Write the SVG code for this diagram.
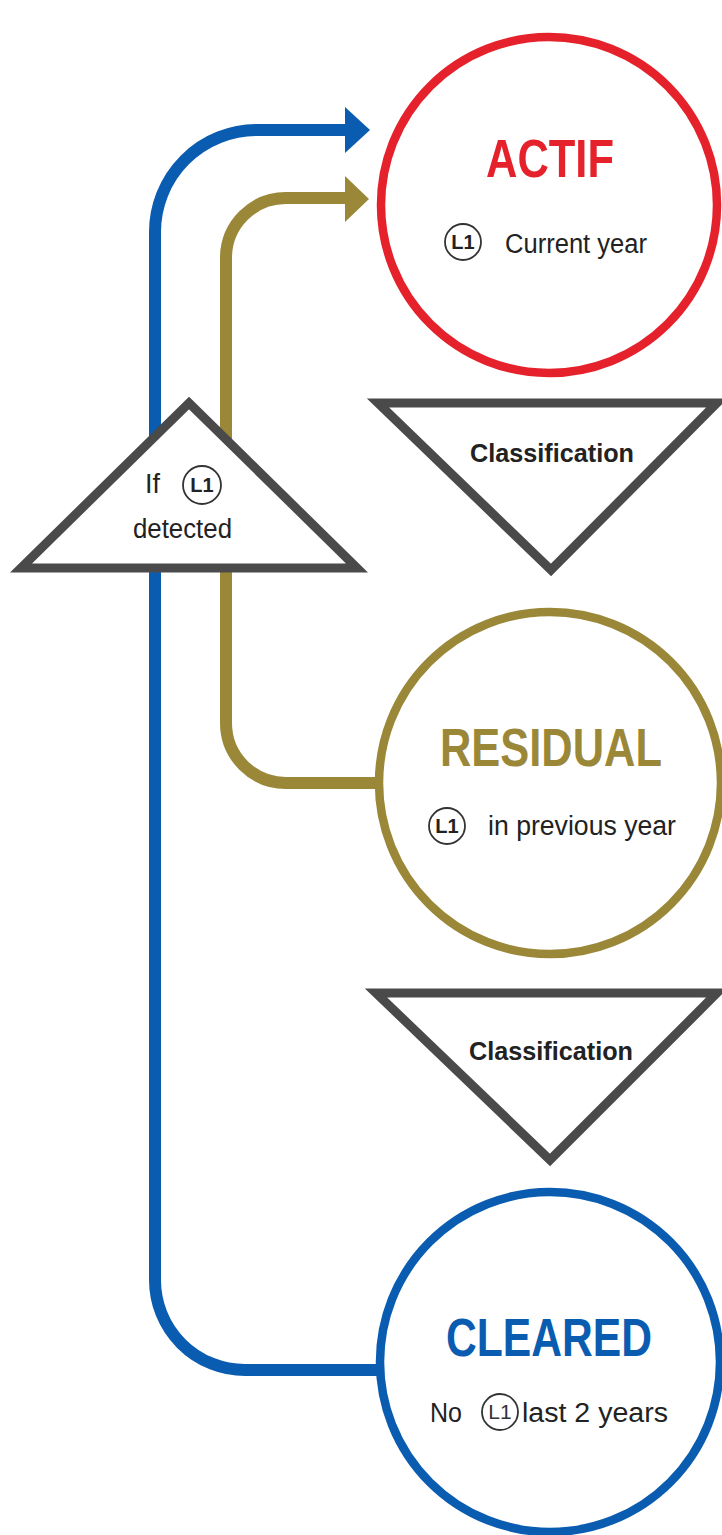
<svg xmlns="http://www.w3.org/2000/svg" width="722" height="1535" viewBox="0 0 722 1535">
<style>
.title{font-family:"Liberation Sans",Arial,sans-serif;font-weight:bold;font-size:53px;text-anchor:middle}
.body{font-family:"Liberation Sans",Arial,sans-serif;font-size:27px;fill:#222}
.cls{font-family:"Liberation Sans",Arial,sans-serif;font-weight:bold;font-size:26px;fill:#222;text-anchor:middle}
.badge{fill:#fff;stroke:#333;stroke-width:1.8}
.bl{font-family:"Liberation Sans",Arial,sans-serif;font-weight:bold;font-size:20px;fill:#222;text-anchor:middle}
.blr{font-family:"Liberation Sans",Arial,sans-serif;font-size:21px;fill:#333;text-anchor:middle}
.tri{fill:#fff;stroke:#4a4a4a;stroke-width:9;stroke-linejoin:miter}
.ring{fill:#fff;stroke-width:8.5}
.conn{fill:none;stroke-width:12}
</style>
<g id="connectors">
  <path class="conn" stroke="#0a5cb0" d="M383 1370 L245 1370 A90 90 0 0 1 155 1280 L155 232 A102 102 0 0 1 257 130 L348 130"/>
  <polygon fill="#0a5cb0" points="345,107 370,130 345,153"/>
  <path class="conn" stroke="#9a8838" stroke-width="11" d="M383 783 L286 783 A60 60 0 0 1 226 723 L226 258 A60 60 0 0 1 286 198 L348 198"/>
  <polygon fill="#9a8838" points="345,176 369,199 345,222"/>
</g>
<g id="actif">
  <circle class="ring" cx="549" cy="205" r="168" stroke="#e5222b"/>
  <text class="title" x="550" y="177" fill="#e5222b" textLength="128" lengthAdjust="spacingAndGlyphs">ACTIF</text>
  <circle class="badge" cx="463" cy="242" r="18"/>
  <text class="bl" x="463" y="249">L1</text>
  <text class="body" x="505" y="253" textLength="142" lengthAdjust="spacingAndGlyphs">Current year</text>
</g>
<g id="classification1">
  <polygon class="tri" points="378,403 717,403 551,570"/>
  <text class="cls" x="552" y="462" textLength="164" lengthAdjust="spacingAndGlyphs">Classification</text>
</g>
<g id="if-detected">
  <polygon class="tri" points="189,403 357,568 21,568"/>
  <text class="body" x="145" y="493" textLength="15" lengthAdjust="spacingAndGlyphs">If</text>
  <circle class="badge" cx="202" cy="485" r="19"/>
  <text class="bl" x="202" y="492">L1</text>
  <text class="body" x="133" y="538" textLength="99" lengthAdjust="spacingAndGlyphs">detected</text>
</g>
<g id="residual">
  <circle class="ring" cx="550" cy="783" r="171" stroke="#9a8838"/>
  <text class="title" x="551" y="766" fill="#9a8838" textLength="222" lengthAdjust="spacingAndGlyphs">RESIDUAL</text>
  <circle class="badge" cx="447" cy="826" r="18"/>
  <text class="bl" x="447" y="833">L1</text>
  <text class="body" x="488" y="835" textLength="188" lengthAdjust="spacingAndGlyphs">in previous year</text>
</g>
<g id="classification2">
  <polygon class="tri" points="376,993 717,993 550,1160"/>
  <text class="cls" x="551" y="1060" textLength="164" lengthAdjust="spacingAndGlyphs">Classification</text>
</g>
<g id="cleared">
  <circle class="ring" cx="550" cy="1362" r="170" stroke="#0a5cb0"/>
  <text class="title" x="549" y="1356" fill="#0a5cb0" textLength="206" lengthAdjust="spacingAndGlyphs">CLEARED</text>
  <text class="body" x="430" y="1422" textLength="32" lengthAdjust="spacingAndGlyphs">No</text>
  <circle class="badge" cx="500" cy="1412" r="18"/>
  <text class="blr" x="500" y="1419">L1</text>
  <text class="body" x="522" y="1422" textLength="146" lengthAdjust="spacingAndGlyphs">last 2 years</text>
</g>
</svg>
